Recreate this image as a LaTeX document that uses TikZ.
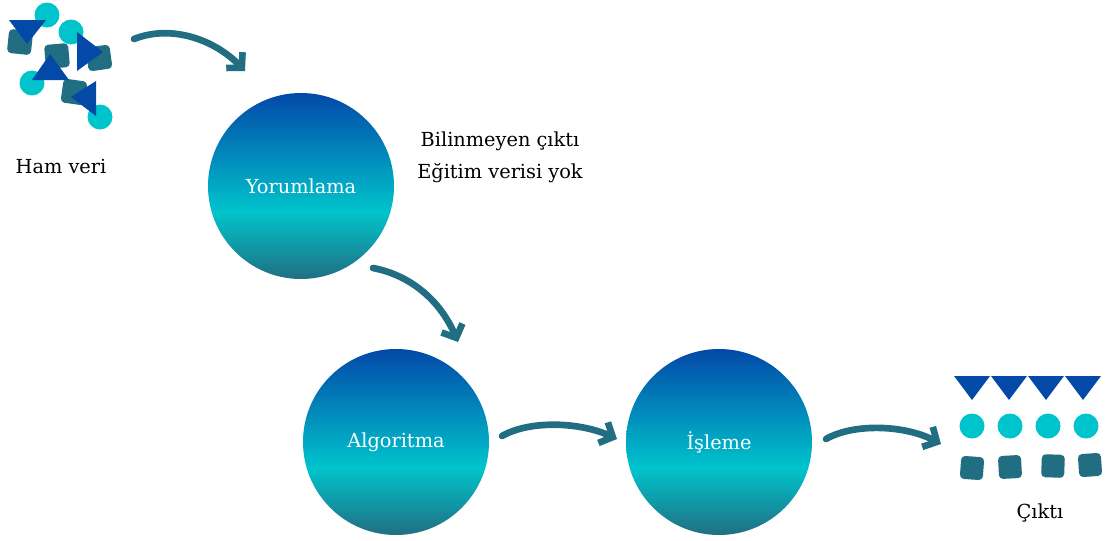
\documentclass[tikz,border=0pt]{standalone}
\usepackage{fontspec}
\setmainfont{DejaVu Serif}
\usetikzlibrary{arrows.meta,calc}
\definecolor{dkblue}{HTML}{0349A8}
\definecolor{aqua}{HTML}{00C4CC}
\definecolor{deepteal}{HTML}{216E82}
\pgfdeclareverticalshading{stageshade}{100bp}{color(0bp)=(deepteal); color(25bp)=(deepteal); color(43bp)=(aqua); color(75bp)=(dkblue); color(100bp)=(dkblue)}

\begin{document}
\begin{tikzpicture}[x=0.75pt,y=-0.75pt, every node/.style={font=\fontsize{14.5}{17}\selectfont},
    stage/.style={circle,shading=stageshade,minimum size=139.5pt,inner sep=0pt,text=white},
    flow/.style={draw=deepteal,line width=5pt,line cap=round,-{Straight Barb[length=8pt,width=17pt]}},
    tri/.style={fill=dkblue}, dot/.style={fill=aqua}, blk/.style={fill=deepteal,rounded corners=3pt}]
    \useasboundingbox (0,0) rectangle (1107,540);

    % raw data icons
    \foreach \cx/\cy/\a in {20/42/-6, 57/56/5, 99/58/8, 74/92/-8}
      \fill[blk, rotate around={\a:(\cx,\cy)}] (\cx-12,\cy-12) rectangle (\cx+12,\cy+12);
    \foreach \cx/\cy in {47/15, 71/32, 32/83, 100/117}
      \fill[dot] (\cx,\cy) circle (12.5);
    \fill[tri] (9,20) -- (46,20) -- (27,44) -- cycle;
    \fill[tri] (77,32) -- (77,71) -- (103,52) -- cycle;
    \fill[tri] (32,80) -- (69,80) -- (50,54) -- cycle;
    \fill[tri] (96,81) -- (96,116) -- (71,97) -- cycle;
    \node (ham) at (61,167) {Ham veri};

    % output icons
    \foreach \tx in {972,1009,1046,1083}
      \fill[tri] (\tx-18,376) -- (\tx+18,376) -- (\tx,400) -- cycle;
    \foreach \cx in {972,1010,1048,1086}
      \fill[dot] (\cx,426) circle (12.5);
    \foreach \cx/\cy/\a in {972/468/-4, 1010/467/3, 1053/466/-2, 1090/465/4}
      \fill[blk, rotate around={\a:(\cx,\cy)}] (\cx-11.5,\cy-11.5) rectangle (\cx+11.5,\cy+11.5);
    \node (cik) at (1040,513) {Çıktı};

    % stages
    \node[stage] (yor) at (301,186) {Yorumlama};
    \node[stage] (alg) at (396,442) {Algoritma};
    \node[stage] (isl) at (719,442) {İşleme};
    \node[align=center,font=\fontsize{14.5}{24}\selectfont] (note) at (500,157) {Bilinmeyen çıktı\\Eğitim verisi yok};

    % connectors
    \coordinate (hamout) at (134,39);  \coordinate (yorin) at (245,71);
    \coordinate (yorout) at (373,268); \coordinate (algin) at (458,342);
    \coordinate (algout) at (502,436); \coordinate (islin) at (617,439);
    \coordinate (islout) at (826,439); \coordinate (cikin) at (941,444);
    \draw[flow] (hamout) .. controls (172,24) and (215,40) .. (yorin);
    \draw[flow] (yorout) .. controls (410,275) and (440,300) .. (algin);
    \draw[flow] (algout) .. controls (530,420) and (580,422) .. (islin);
    \draw[flow] (islout) .. controls (854,423) and (905,425) .. (cikin);
\end{tikzpicture}
\end{document}
